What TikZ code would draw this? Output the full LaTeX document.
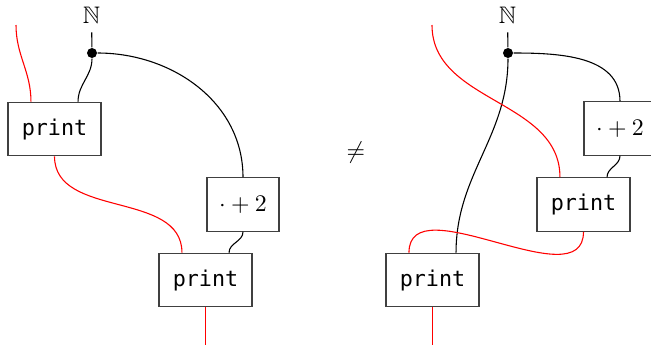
\documentclass[tikz,border=0pt]{standalone}
\usepackage{amsmath}
\usepackage{amssymb}
\usepackage{fontspec}
\setmonofont{DejaVu Sans Mono}
\usetikzlibrary{positioning,calc}

\begin{document}
\begin{tikzpicture}[x=0.46pt,y=-0.46pt, line width=0.5pt,
  box/.style={draw=black!75, minimum height=24.6pt, inner sep=0pt},
  prbox/.style={box, minimum width=42.8pt, font=\ttfamily},
  addbox/.style={box, minimum width=33.1pt, font=\fontsize{10.5}{12}\selectfont},
  natlabel/.style={inner sep=4pt, font=\fontsize{11}{13}\selectfont},
  dotnode/.style={circle, fill, inner sep=0pt, minimum size=4.6pt},
  effect/.style={red},
  wire/.style={black}]
  \useasboundingbox (0,0) rectangle (651,347);
  % the print boxes
  \foreach \n/\x/\y in {prA/54.5/129, prB/205.5/280, prC/583.5/204.5, prD/432.5/280} {
    \node[prbox] (\n) at (\x,\y) {print};
  }
  % left-hand side
  \node[natlabel] (natA) at (91.5,15) {$\mathbb{N}$};
  \node[dotnode] (dotA) at (92,53) {};
  \node[addbox] (addA) at (243,204.5) {$\cdot + 2$};
  \coordinate (inA) at (16,25);
  \coordinate (outA) at (205.5,345);
  \draw[wire] (natA) -- (dotA);
  \draw[wire] (dotA) to[out=-90,in=90] ($(prA.north west)!.75!(prA.north east)$);
  \draw[wire] (dotA) to[out=0,in=90] (addA.north);
  \draw[wire] (addA.south) to[out=-90,in=90] ($(prB.north west)!.75!(prB.north east)$);
  \draw[effect] (inA) to[out=-90,in=90] ($(prA.north west)!.25!(prA.north east)$);
  \draw[effect] (prA.south) to[out=-90,in=90] ($(prB.north west)!.25!(prB.north east)$);
  \draw[effect] (prB.south) -- (outA);
  % not equal
  \node[font=\fontsize{10.5}{12}\selectfont] (neq) at (356,153) {$\neq$};
  % right-hand side
  \node[natlabel] (natB) at (507.5,15) {$\mathbb{N}$};
  \node[dotnode] (dotB) at (508,53) {};
  \node[addbox] (addB) at (620,128.5) {$\cdot + 2$};
  \coordinate (inB) at (432,25);
  \coordinate (outB) at (432.5,345);
  \draw[wire] (natB) -- (dotB);
  \draw[wire] (dotB) to[out=-90,in=90] ($(prD.north west)!.75!(prD.north east)$);
  \draw[wire] (dotB) to[out=0,in=90] (addB.north);
  \draw[wire] (addB.south) to[out=-90,in=90] ($(prC.north west)!.75!(prC.north east)$);
  \draw[effect] (inB) to[out=-90,in=90] ($(prC.north west)!.25!(prC.north east)$);
  \draw[effect] (prC.south) to[out=-90,in=90] ($(prD.north west)!.25!(prD.north east)$);
  \draw[effect] (prD.south) -- (outB);
\end{tikzpicture}
\end{document}
